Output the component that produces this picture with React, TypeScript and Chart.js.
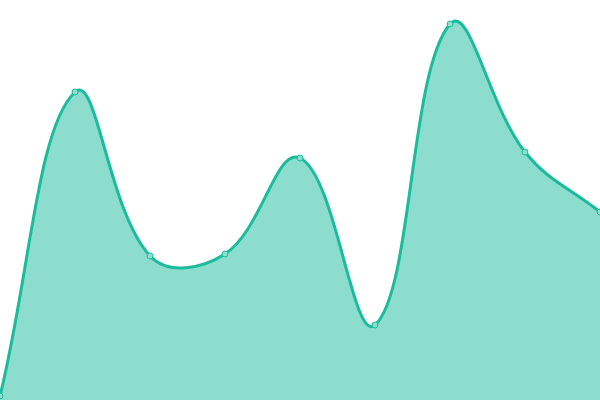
import { useEffect, useRef } from 'react'
import { Chart, registerables } from 'chart.js'

Chart.register(...registerables)

const labels = ['1', '2', '3', '4', '5', '6', '7', '8', '9']
const values = [1, 77, 36, 36.5, 60.5, 18.75, 94, 62, 47]

const teal = '#1abc9c'
const tealFill = 'rgba(26,188,156,0.5)'
const pointFill = '#8ddecf'

export default function App() {
  const ref = useRef<HTMLCanvasElement>(null)

  useEffect(() => {
    document.body.style.margin = '0'
    if (!ref.current) return
    const chart = new Chart(ref.current, {
      type: 'line',
      data: {
        labels,
        datasets: [{
          data: values,
          borderColor: teal,
          backgroundColor: tealFill,
          pointBackgroundColor: pointFill,
          pointBorderColor: teal,
          pointRadius: 3,
          pointBorderWidth: 1,
          borderWidth: 3,
          tension: 0.4,
          fill: true,
        }],
      },
      options: {
        responsive: true,
        maintainAspectRatio: false,
        animation: false,
        layout: { padding: 0, autoPadding: false },
        plugins: { legend: { display: false }, tooltip: { enabled: false } },
        scales: {
          x: { display: false, offset: false },
          y: { display: false, min: 0, max: 100 },
        },
      },
    })
    return () => chart.destroy()
  }, [])

  return (
    <div style={{ position: 'relative', width: 600, height: 400 }}>
      <canvas ref={ref} />
    </div>
  )
}
